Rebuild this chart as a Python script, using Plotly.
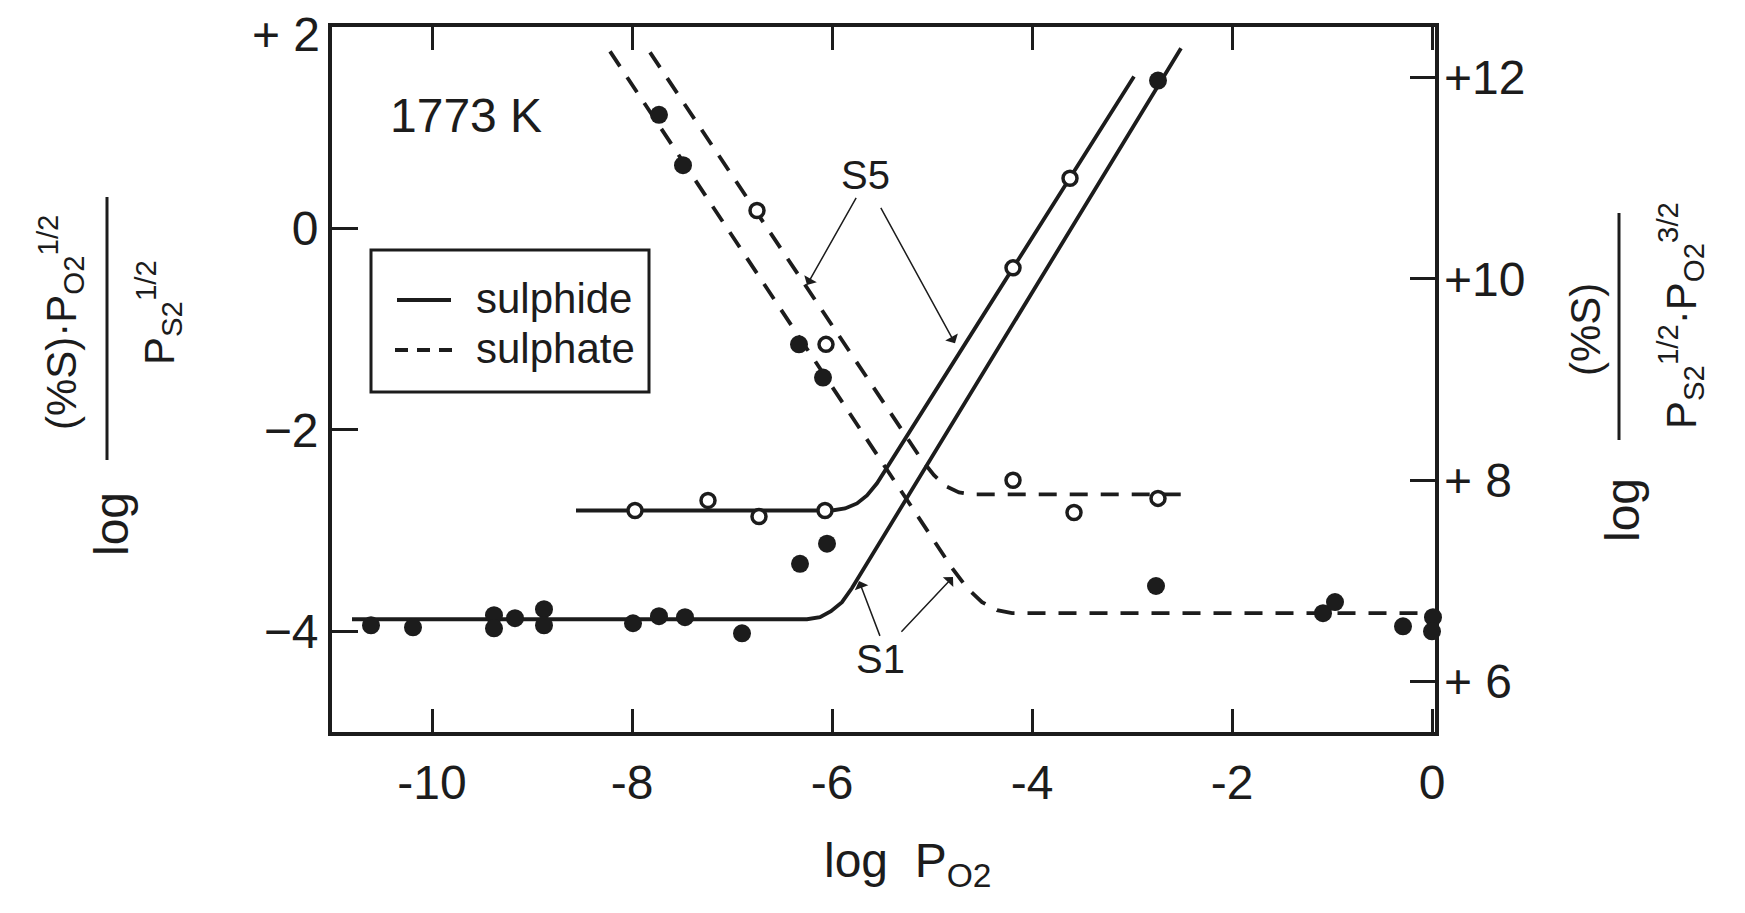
import plotly.graph_objects as go

# ---------------- data ----------------
# filled circles: slag S1
filled_x = [-10.61, -10.19, -9.38, -9.38, -9.17, -8.88, -8.88, -7.99, -7.73, -7.47, -6.90,
            -6.32, -6.05, -2.74, -7.73, -7.49, -6.33, -6.09, -2.76, -1.09, -0.97, -0.29, 0.01, 0.00]
filled_y = [-3.94, -3.96, -3.84, -3.97, -3.87, -3.78, -3.94, -3.92, -3.85, -3.86, -4.02,
            -3.33, -3.13, 1.47, 1.13, 0.63, -1.15, -1.48, -3.55, -3.82, -3.71, -3.95, -3.86, -4.00]
# open circles: slag S5
open_x = [-7.97, -7.24, -6.73, -6.07, -6.75, -6.06, -4.19, -3.62, -4.19, -3.58, -2.74]
open_y = [-2.80, -2.70, -2.86, -2.80, 0.18, -1.15, -0.39, 0.50, -2.50, -2.82, -2.68]

# fitted curves
sulphide_s5_x = [-8.56, -6.00, -5.87, -5.75, -5.65, -5.55, -2.98]
sulphide_s5_y = [-2.80, -2.80, -2.78, -2.73, -2.65, -2.53, 1.51]
sulphide_s1_x = [-10.80, -6.25, -6.12, -6.01, -5.90, -5.80, -2.51]
sulphide_s1_y = [-3.88, -3.88, -3.86, -3.80, -3.71, -3.57, 1.79]
sulphate_s5_x = [-7.82, -5.10, -4.98, -4.86, -4.73, -4.60, -2.39]
sulphate_s5_y = [1.75, -2.30, -2.45, -2.56, -2.62, -2.64, -2.64]
sulphate_s1_x = [-8.22, -4.80, -4.65, -4.50, -4.35, -4.20, 0.00]
sulphate_s1_y = [1.76, -3.37, -3.57, -3.71, -3.79, -3.82, -3.82]

x_tickvals = [-10, -8, -6, -4, -2, 0]
x_ticktext = ["-10", "-8", "-6", "-4", "-2", "0"]
y_tickvals = [0, -2, -4]
y_ticktext = ["0", "\u22122", "\u22124"]
y_top_value = 2
y_top_text = "+ 2"
y2_tickvals = [6, 8, 10, 12]
y2_ticktext = ["+ 6", "+ 8", "+10", "+12"]
legend_names = ["sulphide", "sulphate"]

# ---------------- layout constants ----------------
W, H = 1745, 913
BODY = 8                      # default page margin of the html body
PL, PT, PR, PB = 332, 27, 1435, 732   # wanted plot-area box on screen
PW, PH = PR - PL, PB - PT
INK = "#1c1c1c"
FONT = "Liberation Sans, Arial, sans-serif"


def pxx(x):
    return (x - PL) / PW


def pxy(y):
    return (PB - y) / PH


fig = go.Figure()

solid = dict(color=INK, width=3.8)
dashed = dict(color=INK, width=3.8, dash="18px,13px")

fig.add_trace(go.Scatter(x=sulphide_s1_x, y=sulphide_s1_y, mode="lines", line=solid,
                         name="sulphide S1", hoverinfo="skip"))
fig.add_trace(go.Scatter(x=sulphate_s1_x, y=sulphate_s1_y, mode="lines", line=dashed,
                         name="sulphate S1", hoverinfo="skip"))
fig.add_trace(go.Scatter(x=sulphide_s5_x, y=sulphide_s5_y, mode="lines", line=solid,
                         name="sulphide S5", hoverinfo="skip"))
fig.add_trace(go.Scatter(x=sulphate_s5_x, y=sulphate_s5_y, mode="lines", line=dashed,
                         name="sulphate S5", hoverinfo="skip"))
fig.add_trace(go.Scatter(x=filled_x, y=filled_y, mode="markers",
                         marker=dict(symbol="circle", size=18, color=INK, line=dict(width=0)),
                         cliponaxis=False, name="S1"))
fig.add_trace(go.Scatter(x=open_x, y=open_y, mode="markers",
                         marker=dict(symbol="circle", size=14, color="white",
                                     line=dict(width=3.5, color=INK)),
                         cliponaxis=False, name="S5"))
# carrier for the right-hand axis
fig.add_trace(go.Scatter(x=[None], y=[None], yaxis="y2", hoverinfo="skip", name=""))

axis_common = dict(showgrid=False, zeroline=False, ticks="inside", tickcolor=INK,
                   tickwidth=3, linecolor=INK, linewidth=4, automargin=False,
                   ticklabeloverflow="allow",
                   tickfont=dict(family=FONT, size=48, color=INK))

fig.update_layout(
    width=W, height=H,
    margin=dict(l=PL - BODY, r=W - PR + BODY, t=PT - BODY, b=H - PB + BODY, pad=0,
                autoexpand=False),
    paper_bgcolor="white", plot_bgcolor="white",
    font=dict(family=FONT, color=INK),
    showlegend=False,
    xaxis=dict(range=[-11, 0.03], tickvals=x_tickvals, ticktext=x_ticktext, ticklen=23,
               showline=True, mirror="ticks", ticklabelstandoff=5, **axis_common),
    yaxis=dict(range=[-5, 2.002], tickvals=y_tickvals, ticktext=y_ticktext, ticklen=26,
               showline=True, mirror=True, ticklabelstandoff=0, **axis_common),
    yaxis2=dict(range=[5.5, 12.502], tickvals=y2_tickvals, ticktext=y2_ticktext, ticklen=25,
                overlaying="y", side="right", showline=False, ticklabelstandoff=8,
                **axis_common),
)

ann = []


def paper_text(x, y, text, size, angle=0, xanchor="center"):
    ann.append(dict(x=pxx(x), y=pxy(y), xref="paper", yref="paper", text=text,
                    textangle=angle, showarrow=False, xanchor=xanchor, yanchor="middle",
                    font=dict(size=size, family=FONT, color=INK)))


# top label of the left axis (sits at the frame corner, nudged down to stay on the page)
ann.append(dict(x=pxx(322), y=y_top_value, xref="paper", yref="y", text=y_top_text,
                showarrow=False, xanchor="right", yanchor="middle", yshift=-7,
                font=dict(size=48, family=FONT, color=INK)))
# temperature
ann.append(dict(x=-10.44, y=1.12, xref="x", yref="y", text="1773 K", showarrow=False,
                xanchor="left", yanchor="middle", font=dict(size=48, family=FONT, color=INK)))
# curve labels
ann.append(dict(x=-5.67, y=0.53, xref="x", yref="y", text="S5", showarrow=False,
                xanchor="center", yanchor="middle", font=dict(size=40, family=FONT, color=INK)))
ann.append(dict(x=-5.52, y=-4.27, xref="x", yref="y", text="S1", showarrow=False,
                xanchor="center", yanchor="middle", font=dict(size=40, family=FONT, color=INK)))
# pointer arrows
for (tx, ty, hx, hy) in [(-5.75, 0.32, -6.25, -0.56), (-5.52, 0.22, -4.77, -1.14),
                         (-5.515, -4.06, -5.73, -3.50), (-5.32, -4.02, -4.79, -3.46)]:
    ann.append(dict(x=hx, y=hy, ax=tx, ay=ty, xref="x", yref="y", axref="x", ayref="y",
                    text="", showarrow=True, arrowhead=1, arrowsize=1.6, arrowwidth=1.5,
                    arrowcolor=INK, standoff=0, startstandoff=0))

# legend (box drawn as shapes below)
paper_text(474, 298, legend_names[0], 42, xanchor="left")
paper_text(474, 348, legend_names[1], 42, xanchor="left")

# x-axis title
paper_text(908, 864, "log\u00a0\u00a0P<sub>O2</sub>", 48)

# left y-axis title (fraction built from pieces)
paper_text(111, 524, "log", 48, angle=-90)
paper_text(60, 323, "(%S)\u00b7P<sub>O2</sub><sup>1/2</sup>", 42, angle=-90)
paper_text(158, 313, "P<sub>S2</sub><sup>1/2</sup>", 42, angle=-90)
# right y-axis title
paper_text(1622, 510, "log", 48, angle=-90)
paper_text(1586, 330, "(%S)", 42, angle=-90)
paper_text(1680, 316, "P<sub>S2</sub><sup>1/2</sup>\u00b7P<sub>O2</sub><sup>3/2</sup>", 42, angle=-90)

fig.update_layout(annotations=ann)

shapes = []
# fraction bars
shapes.append(dict(type="line", xref="paper", yref="paper", x0=pxx(107), x1=pxx(107),
                   y0=pxy(197), y1=pxy(460), line=dict(color=INK, width=3)))
shapes.append(dict(type="line", xref="paper", yref="paper", x0=pxx(1619), x1=pxx(1619),
                   y0=pxy(213), y1=pxy(440), line=dict(color=INK, width=3)))
# legend frame and keys
shapes.append(dict(type="rect", xref="paper", yref="paper", x0=pxx(371), x1=pxx(649),
                   y0=pxy(250), y1=pxy(392), line=dict(color=INK, width=3),
                   fillcolor="white", layer="below"))
shapes.append(dict(type="line", xref="paper", yref="paper", x0=pxx(397), x1=pxx(451),
                   y0=pxy(300), y1=pxy(300), line=dict(color=INK, width=3.8)))
shapes.append(dict(type="line", xref="paper", yref="paper", x0=pxx(395), x1=pxx(453),
                   y0=pxy(350), y1=pxy(350), line=dict(color=INK, width=3.8, dash="13px,9px")))
fig.update_layout(shapes=shapes)

fig.write_html("out.html")
